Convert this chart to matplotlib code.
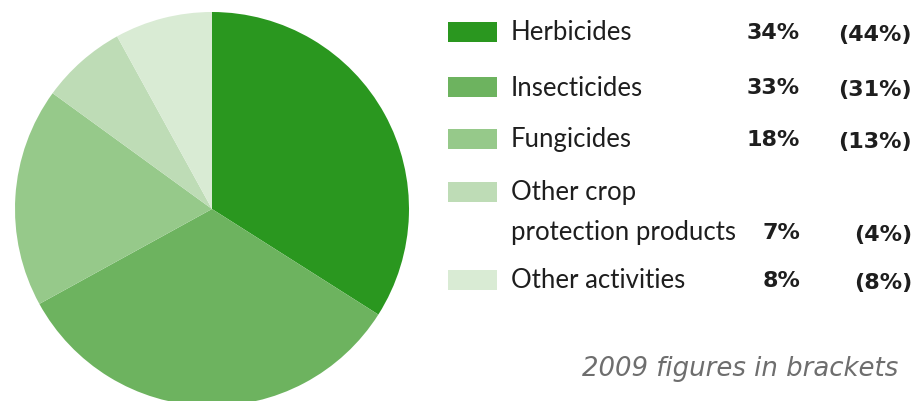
import matplotlib
matplotlib.use("Agg")
import matplotlib.pyplot as plt
from matplotlib.patches import Rectangle

categories = ["Herbicides", "Insecticides", "Fungicides",
              "Other crop\nprotection products", "Other activities"]
shares_2010 = [34, 33, 18, 7, 8]
shares_2009 = [44, 31, 13, 4, 8]
colors = ["#2a971f", "#6db35f", "#96c98a", "#bedcb6", "#d9ebd4"]
footnote = "2009 figures in brackets"

W, H = 916, 402
fig = plt.figure(figsize=(W / 100, H / 100), dpi=100)
ax = fig.add_axes([0, 0, 1, 1])
ax.pie(shares_2010, colors=colors, startangle=90, counterclock=False,
       center=(212, H - 210), radius=197, wedgeprops=dict(linewidth=0))
ax.set_xlim(0, W)
ax.set_ylim(0, H)
ax.set_aspect("auto")
ax.axis("off")

font = "Lato"
fs = 18.5
numfont = "DejaVu Sans"
nfs = 16
txt = "#1e1e1e"
# legend rows (image y of square centre)
row_y = [33, 88, 140, 193, 281]
for cat, v, v9, c, y in zip(categories, shares_2010, shares_2009, colors, row_y):
    ax.add_patch(Rectangle((448, H - y - 10), 49, 20, facecolor=c, edgecolor="none"))
    lines = cat.split("\n")
    ax.text(511, H - y, lines[0], fontsize=fs, family=font, color=txt,
            va="center", ha="left")
    vy = y
    if len(lines) > 1:
        vy = y + 40
        ax.text(511, H - vy, lines[1], fontsize=fs, family=font, color=txt,
                va="center", ha="left")
    ax.text(800, H - vy, f"{v}%", fontsize=nfs, family=numfont, fontweight="bold",
            color=txt, va="center", ha="right")
    ax.text(912, H - vy - 2, f"({v9}%)", fontsize=nfs, family=numfont, fontweight="bold",
            color=txt, va="center", ha="right")

ax.text(898, H - 369, footnote, fontsize=18.7, family="DejaVu Sans", style="italic",
        color="#6e6e6e", va="center", ha="right")

fig.savefig("out.png", dpi=100, facecolor="white")
